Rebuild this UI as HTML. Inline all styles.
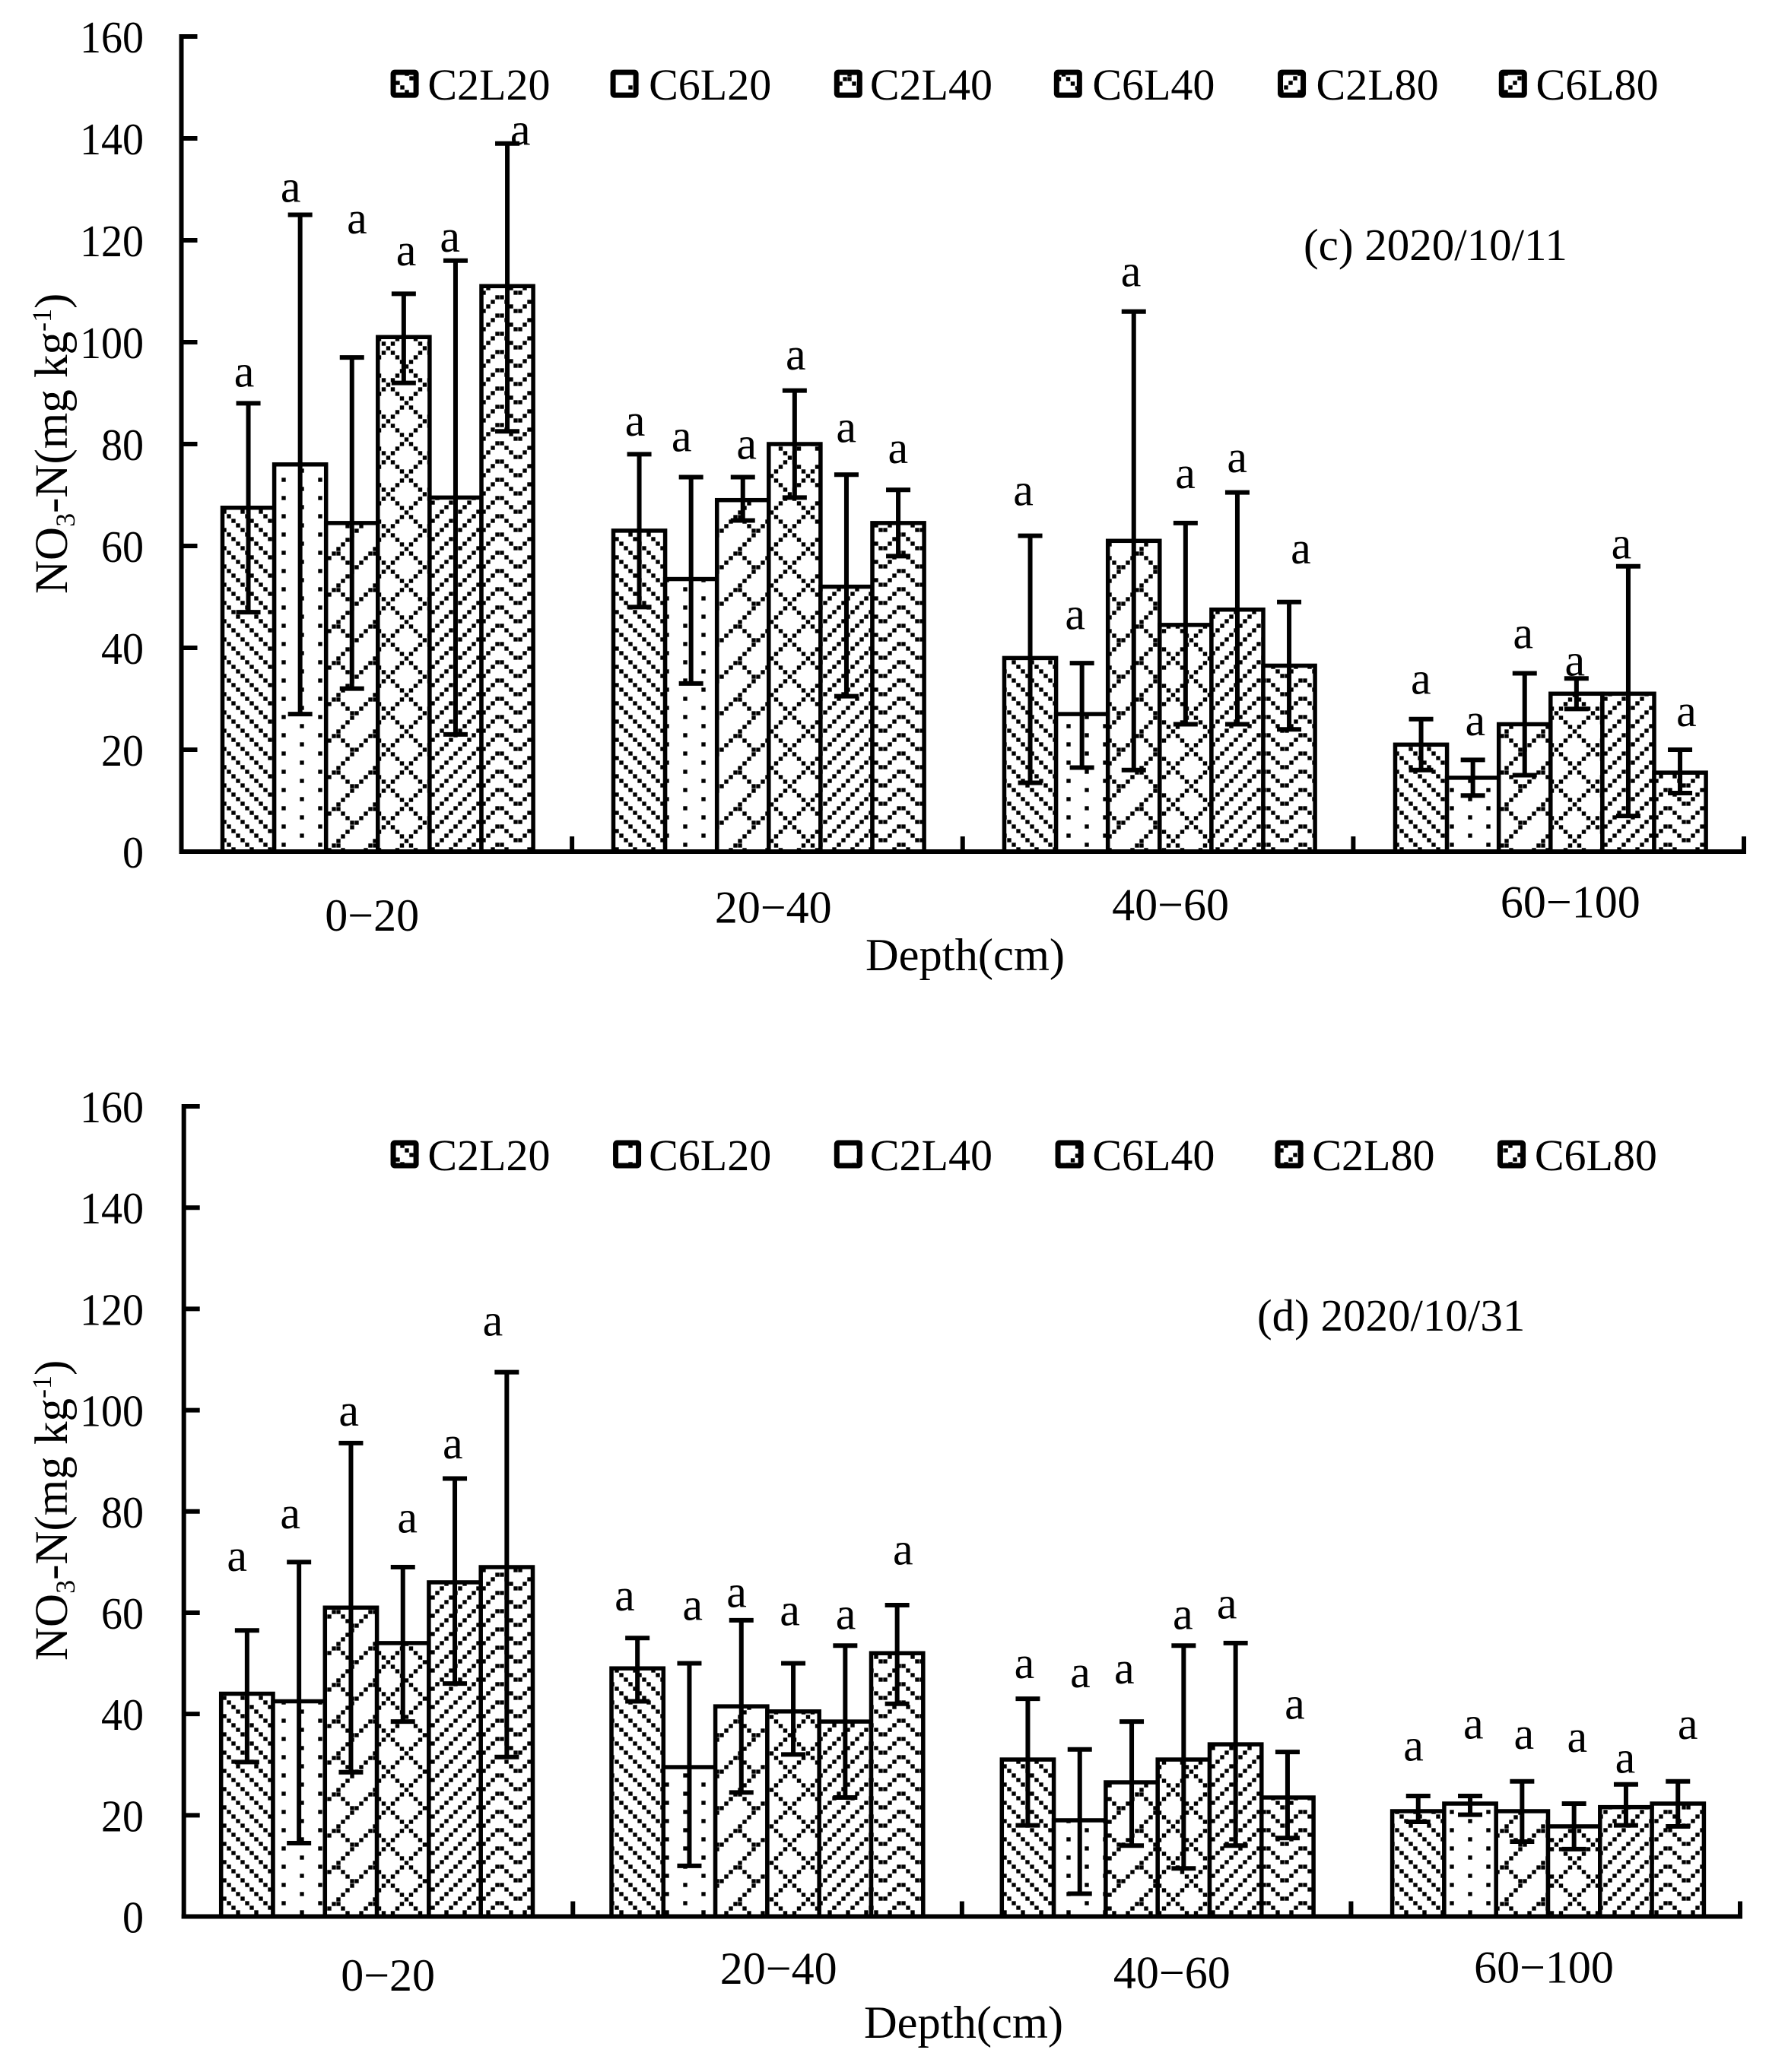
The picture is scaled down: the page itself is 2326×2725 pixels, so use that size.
<!DOCTYPE html>
<html lang="en">
<head>
<meta charset="utf-8">
<title>NO3-N by depth</title>
<style>
html,body{margin:0;padding:0;background:#fff;}
svg{display:block;}
text{font-family:"Liberation Serif",serif;fill:#000;}
</style>
</head>
<body>
<svg id="figure" xmlns="http://www.w3.org/2000/svg" width="2326" height="2725" viewBox="0 0 2326 2725">
  <rect width="2326" height="2725" fill="#fff"/>
  <defs id="pattern-defs"></defs>

  <g id="chart-c">
    <text font-size="61" transform="translate(88,781) rotate(-90)">NO<tspan font-size="36" dy="10">3</tspan><tspan dy="-10">-N(mg kg</tspan><tspan font-size="36" dy="-21">-1</tspan><tspan dy="21">)</tspan></text>
    <text font-size="60.5" text-anchor="middle" x="1269" y="1276">Depth(cm)</text>
    <text font-size="59" x="1714" y="342">(c) 2020/10/11</text>
  </g>
  <g id="chart-d">
    <text font-size="61" transform="translate(88,2184) rotate(-90)">NO<tspan font-size="36" dy="10">3</tspan><tspan dy="-10">-N(mg kg</tspan><tspan font-size="36" dy="-21">-1</tspan><tspan dy="21">)</tspan></text>
    <text font-size="60.5" text-anchor="middle" x="1267" y="2680">Depth(cm)</text>
    <text font-size="59" x="1653" y="1750">(d) 2020/10/31</text>
  </g>
</svg>
<script>
const categories = ['0\u221220', '20\u221240', '40\u221260', '60\u2212100'];
const seriesNames = ['C2L20', 'C6L20', 'C2L40', 'C6L40', 'C2L80', 'C6L80'];
const yTickValues = [0, 20, 40, 60, 80, 100, 120, 140, 160];

const cMeans = [[67.5, 76, 64.5, 101, 69.5, 111], [63, 53.5, 69, 80, 52, 64.5], [38, 27, 61, 44.5, 47.5, 36.5], [21, 14.5, 25, 31, 31, 15.5]];
const cUpper = [[88, 125, 97, 109.5, 116, 139], [78, 73.5, 73.5, 90.5, 74, 71], [62, 37, 106, 64.5, 70.5, 49], [26, 18, 35, 34, 56, 20]];
const cLower = [[47, 27, 32, 92, 23, 82.5], [48, 33, 65, 69.5, 30.5, 58], [13.5, 16.5, 16, 25, 25, 24], [16, 11, 15, 28, 7, 11.5]];
const cLetters = [['a', 'a', 'a', 'a', 'a', 'a'], ['a', 'a', 'a', 'a', 'a', 'a'], ['a', 'a', 'a', 'a', 'a', 'a'], ['a', 'a', 'a', 'a', 'a', 'a']];
const cLetterLift = [[5.5, 4.8, 26.6, 7.8, 4, 2], [5.9, 7.3, 5.8, 6.4, 8.6, 7.5], [8.2, 8.9, 7.2, 9.1, 6.2, 9.8], [7.2, 7.1, 7.2, 2.8, 3.8, 6.9]];

const dMeans = [[44, 42.5, 61, 54, 66, 69], [49, 29.5, 41.5, 40.5, 38.5, 52], [31, 19, 26.5, 31, 34, 23.5], [20.8, 22.3, 20.8, 17.8, 21.6, 22.3]];
const dUpper = [[56.5, 70, 93.5, 69, 86.5, 107.5], [55, 50, 58.5, 50, 53.5, 61.5], [43, 33, 38.5, 53.5, 54, 32.5], [23.8, 23.8, 26.7, 22.3, 26.1, 26.7]];
const dLower = [[30.5, 14.5, 28.5, 38.5, 46, 31.5], [42.5, 10, 24.5, 32, 23.5, 42], [18, 4.5, 14, 9.5, 14, 15.5], [18.7, 20.1, 14.8, 13.3, 18, 17.8]];
const dLetters = [['a', 'a', 'a', 'a', 'a', 'a'], ['a', 'a', 'a', 'a', 'a', 'a'], ['a', 'a', 'a', 'a', 'a', 'a'], ['a', 'a', 'a', 'a', 'a', 'a']];
const dLetterLift = [[14, 8.9, 5.7, 9.1, 6.2, 9.5], [7.7, 10.8, 4.9, 9.8, 5.5, 10.3], [6.3, 14.5, 9.8, 5.5, 7.1, 8.8], [9.2, 13.6, 8.7, 12.5, 4.5, 10.6]];

const NS = 'http://www.w3.org/2000/svg';
const KX = 1.741;
const KY = 1.736;
const layoutC = {
  id: 'c', left: 238.5, right: 2293, base: 1120, top: 48, barOffset: 54, barBand: 514, barW: 68.1, letterNudge: -2,
  letterShift: [[-2, -6, 5, 3, -3, 11], [-2, -6, 4, 2, 1, 1], [-4, -4, -1, 1, 1, 10], [1, 3, 0, 0, -4, 6]],
  catX: [281, 584, 884, 1186], catY: [705, 699, 697, 695],
  legendSwatchX: [297, 463, 632, 798, 967, 1134], legendTextX: [323, 490, 657, 825, 994, 1160], legendY: 64
};
const layoutD = {
  id: 'd', left: 241.7, right: 2288, base: 2520.5, top: 1455, barOffset: 49, barBand: 513.3, barW: 68.3, letterNudge: -1,
  letterShift: [[-7, -6, -1, 4, -1, -10], [-9, 3, -3, -2, 1, 5], [-2, 1, -5, 0, -6, 6], [-3, 3, 2, 3, 0, 8]],
  catX: [293, 588, 885, 1166], catY: [1508, 1503, 1506, 1502],
  legendSwatchX: [297, 465, 632, 799, 965, 1133], legendTextX: [323, 490, 657, 825, 991, 1159], legendY: 875
};

const hatchTiles = [
  { w: 4, h: 4, ox: 10, oy: 4, cells: [[0, 0], [1, 1], [2, 2], [3, 3]] },
  { w: 8, h: 4, ox: 34, oy: 4, cells: [[0, 0], [4, 2]] },
  { w: 8, h: 8, ox: 46, oy: 41, cells: [[3, 0], [2, 1], [1, 2], [2, 2], [0, 3], [3, 3], [4, 4], [7, 4], [5, 5], [6, 5], [5, 6], [4, 7]] },
  { w: 8, h: 8, ox: 3.5, oy: 47, cells: [[0, 0], [1, 1], [2, 2], [3, 3], [4, 4], [5, 5], [6, 6], [7, 7], [7, 1], [6, 2], [5, 3], [3, 5], [2, 6], [1, 7]] },
  { w: 4, h: 4, ox: 2, oy: 4, cells: [[3, 0], [2, 1], [1, 2], [0, 3]] },
  { w: 8, h: 4, ox: 27, oy: 4, cells: [[0, 0], [1, 0], [2, 1], [7, 1], [3, 2], [6, 2], [4, 3], [5, 3]] }
];

function make(tag, parent) {
  const el = document.createElementNS(NS, tag);
  parent.appendChild(el);
  return el;
}
function line(parent, x1, y1, x2, y2, w) {
  const el = make('line', parent);
  el.setAttribute('x1', x1);
  el.setAttribute('y1', y1);
  el.setAttribute('x2', x2);
  el.setAttribute('y2', y2);
  el.setAttribute('stroke', '#000');
  el.setAttribute('stroke-width', w);
  return el;
}

const defs = document.getElementById('pattern-defs');
hatchTiles.forEach((tile, i) => {
  const p = make('pattern', defs);
  p.setAttribute('id', 'p' + i);
  p.setAttribute('patternUnits', 'userSpaceOnUse');
  p.setAttribute('width', tile.w * 6);
  p.setAttribute('height', tile.h * 6);
  p.setAttribute('patternTransform', 'translate(' + tile.ox + ',' + tile.oy + ')');
  const bg = make('rect', p);
  bg.setAttribute('width', tile.w * 6);
  bg.setAttribute('height', tile.h * 6);
  bg.setAttribute('fill', '#fff');
  tile.cells.forEach(c => {
    const r = make('rect', p);
    r.setAttribute('x', c[0] * 6 + 0.3);
    r.setAttribute('y', c[1] * 6 + 0.3);
    r.setAttribute('width', 5.4);
    r.setAttribute('height', 5.4);
  });
});

function drawChart(L, means, upper, lower, letters, lifts) {
  const root = document.getElementById('chart-' + L.id);
  const band = (L.right - L.left) / categories.length;
  const xBar = (g, s) => L.left + g * L.barBand + L.barOffset + s * L.barW;
  const y = v => L.base - (L.base - L.top) * v / 160;

  means.forEach((group, g) => {
    group.forEach((v, s) => {
      const bar = make('rect', root);
      
      
      bar.setAttribute('x', xBar(g, s));
      bar.setAttribute('y', y(v));
      bar.setAttribute('width', L.barW);
      bar.setAttribute('height', L.base - y(v));
      bar.setAttribute('fill', 'url(#p' + s + ')');
      bar.setAttribute('stroke', '#000');
      bar.setAttribute('stroke-width', 5.5);
    });
  });

  means.forEach((group, g) => {
    group.forEach((v, s) => {
      const cx = xBar(g, s) + L.barW / 2;
      const err = make('g', root);
      
      
      line(err, cx, y(upper[g][s]), cx, y(lower[g][s]), 6);
      line(err, cx - 16, y(upper[g][s]), cx + 16, y(upper[g][s]), 6);
      line(err, cx - 16, y(lower[g][s]), cx + 16, y(lower[g][s]), 6);

      const t = make('text', root);
      
      
      t.setAttribute('font-size', '60');
      t.setAttribute('text-anchor', 'middle');
      t.setAttribute('x', cx + L.letterShift[g][s] * KX + L.letterNudge);
      t.setAttribute('y', y(upper[g][s] + lifts[g][s]) + 15);
      t.textContent = letters[g][s];
    });
  });

  const yAxis = line(root, L.left, L.top - 3, L.left, L.base + 3, 6);
  
  
  const xAxis = line(root, L.left - 3, L.base, L.right + 3, L.base, 6);
  
  

  yTickValues.forEach(v => {
    const tick = line(root, L.left, y(v), L.left + 21, y(v), 6);
    
    
    const lab = make('text', root);
    
    
    lab.setAttribute('font-size', '59');
    lab.setAttribute('text-anchor', 'end');
    lab.setAttribute('transform', 'translate(189,' + (y(v) + 21) + ') scale(.95,1)');
    lab.textContent = v;
  });

  categories.forEach((c, g) => {
    const tx = L.left + (g + 1) * band;
    const tick = line(root, tx, L.base, tx, L.base - 20, 6);
    
    
    const lab = make('text', root);
    
    
    lab.setAttribute('font-size', '60');
    lab.setAttribute('text-anchor', 'middle');
    lab.setAttribute('x', L.catX[g] * KX);
    lab.setAttribute('y', L.catY[g] * KY);
    lab.textContent = c;
  });

  seriesNames.forEach((name, s) => {
    const entry = make('g', root);
    
    
    const sw = make('rect', entry);
    
    
    sw.setAttribute('x', L.legendSwatchX[s] * KX);
    sw.setAttribute('y', L.legendY * KY - 16);
    sw.setAttribute('width', 30);
    sw.setAttribute('height', 30);
    sw.setAttribute('rx', 2);
    sw.setAttribute('fill', 'url(#p' + s + ')');
    sw.setAttribute('stroke', '#000');
    sw.setAttribute('stroke-width', 7);
    const t = make('text', entry);
    
    
    t.setAttribute('font-size', '58');
    t.setAttribute('x', L.legendTextX[s] * KX);
    t.setAttribute('y', L.legendY * KY + 20);
    t.textContent = name;
  });
}

drawChart(layoutC, cMeans, cUpper, cLower, cLetters, cLetterLift);
drawChart(layoutD, dMeans, dUpper, dLower, dLetters, dLetterLift);
</script>
</body>
</html>
